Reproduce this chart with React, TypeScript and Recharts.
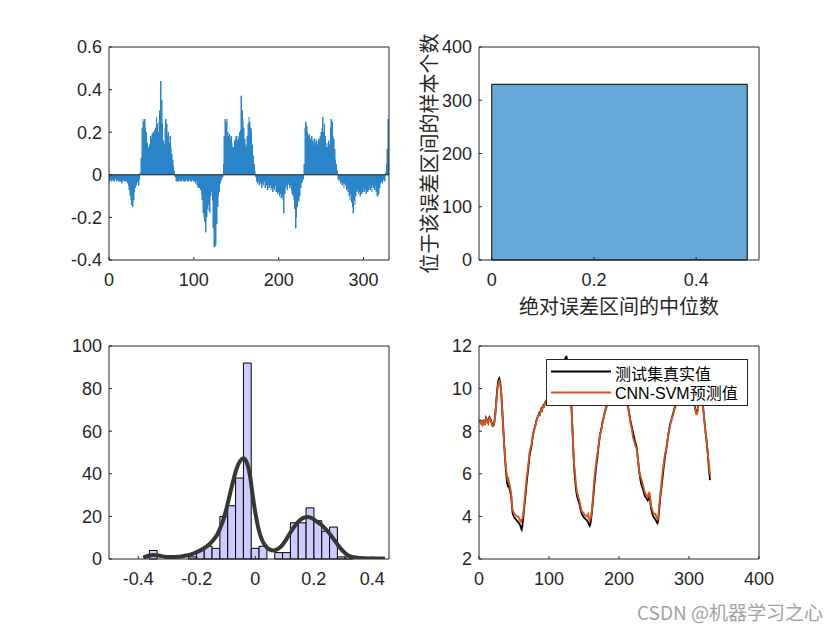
import React from 'react';
import {
  BarChart,
  Bar,
  ComposedChart,
  LineChart,
  Line,
  XAxis,
  YAxis,
  ReferenceLine,
  ReferenceArea,
  Legend,
} from 'recharts';

const W = 840;
const H = 630;
const INK = '#262626';
const LATIN = '"Liberation Sans", Arial, Helvetica, sans-serif';
const CJK = '"Noto Sans CJK SC", "Noto Sans", sans-serif';
const MIXED = '"Liberation Sans", Arial, "Noto Sans CJK SC", sans-serif';

// ---------- data: prediction error of each test sample (top-left) ----------
const errorValues = [
  -0.03, -0.02, -0.03, -0.02, -0.03, -0.03, -0.02, -0.02, -0.03, -0.02,
  -0.03, -0.03, -0.02, -0.03, -0.04, -0.03, -0.02, -0.03, -0.03, -0.02,
  -0.03, -0.04, -0.05, -0.07, -0.10, -0.12, -0.14, -0.15, -0.12, -0.08,
  -0.06, -0.05, -0.04, -0.03, -0.05, -0.02, 0.01, 0.08, 0.22, 0.26,
  0.25, 0.26, 0.22, 0.20, 0.15, 0.13, 0.13, 0.14, 0.18, 0.17,
  0.19, 0.20, 0.18, 0.21, 0.22, 0.27, 0.24, 0.20, 0.25, 0.30,
  0.44, 0.35, 0.24, 0.16, 0.14, 0.22, 0.26, 0.24, 0.18, 0.20,
  0.15, 0.18, 0.13, 0.10, 0.07, 0.04, 0.02, -0.01, -0.03, -0.03,
  -0.03, -0.03, -0.02, -0.03, -0.03, -0.03, -0.02, -0.03, -0.03, -0.03,
  -0.02, -0.03, -0.03, -0.03, -0.02, -0.03, -0.03, -0.02, -0.03, -0.03,
  -0.03, -0.04, -0.03, -0.05, -0.06, -0.04, -0.06, -0.07, -0.09, -0.12,
  -0.18, -0.20, -0.22, -0.27, -0.20, -0.16, -0.14, -0.17, -0.18, -0.10,
  -0.08, -0.12, -0.25, -0.34, -0.34, -0.33, -0.23, -0.15, -0.10, -0.08,
  -0.04, -0.03, -0.02, -0.01, 0.05, 0.18, 0.26, 0.25, 0.26, 0.20,
  0.18, 0.19, 0.17, 0.18, 0.15, 0.13, 0.13, 0.16, 0.17, 0.18,
  0.16, 0.18, 0.17, 0.20, 0.21, 0.37, 0.30, 0.26, 0.22, 0.17,
  0.14, 0.13, 0.18, 0.24, 0.27, 0.25, 0.22, 0.21, 0.14, 0.09,
  0.05, 0.02, -0.01, -0.03, -0.04, -0.03, -0.05, -0.03, -0.04, -0.06,
  -0.04, -0.05, -0.03, -0.06, -0.04, -0.05, -0.07, -0.04, -0.06, -0.05,
  -0.07, -0.06, -0.08, -0.06, -0.07, -0.05, -0.08, -0.07, -0.09, -0.08,
  -0.10, -0.09, -0.11, -0.10, -0.12, -0.18, -0.09, -0.06, -0.05, -0.07,
  -0.05, -0.04, -0.06, -0.05, -0.07, -0.09, -0.10, -0.12, -0.16, -0.25,
  -0.20, -0.15, -0.12, -0.13, -0.10, -0.06, -0.04, -0.03, -0.02, 0.05,
  0.22, 0.25, 0.23, 0.20, 0.18, 0.19, 0.17, 0.16, 0.18, 0.16,
  0.14, 0.17, 0.15, 0.17, 0.16, 0.14, 0.17, 0.16, 0.18, 0.20,
  0.22, 0.27, 0.20, 0.24, 0.18, 0.13, 0.15, 0.13, 0.16, 0.14,
  0.22, 0.26, 0.25, 0.18, 0.17, 0.12, 0.07, 0.05, 0.02, -0.02,
  -0.03, -0.02, -0.04, -0.03, -0.05, -0.04, -0.06, -0.04, -0.05, -0.07,
  -0.06, -0.08, -0.10, -0.12, -0.09, -0.13, -0.15, -0.18, -0.12, -0.14,
  -0.10, -0.08, -0.07, -0.09, -0.08, -0.10, -0.07, -0.09, -0.08, -0.06,
  -0.08, -0.07, -0.09, -0.06, -0.08, -0.07, -0.05, -0.07, -0.06, -0.08,
  -0.05, -0.06, -0.07, -0.05, -0.08, -0.10, -0.10, -0.09, -0.06, -0.04,
  -0.03, -0.04, -0.03, -0.02, -0.03, 0.01, 0.05, 0.12, 0.26, 0.26,
];

// ---------- data: true values of the test set (bottom-right) ----------
const actualValues = [
  8.55, 8.42, 8.38, 8.50, 8.35, 8.44, 8.30, 8.45, 8.40, 8.62,
  8.55, 8.48, 8.40, 8.58, 8.66, 8.60, 8.52, 8.40, 8.28, 8.25,
  8.30, 8.45, 8.70, 9.10, 9.55, 9.95, 10.25, 10.42, 10.48, 10.35,
  10.10, 9.70, 9.15, 8.55, 7.95, 7.35, 6.85, 6.35, 5.95, 5.60,
  5.45, 5.50, 5.35, 5.25, 5.10, 4.95, 4.50, 4.15, 4.05, 3.98,
  3.92, 3.88, 3.85, 3.80, 3.76, 3.72, 3.70, 3.62, 3.58, 3.45,
  3.38, 3.55, 3.85, 4.20, 4.55, 4.85, 5.20, 5.55, 5.85, 6.15,
  6.45, 6.80, 7.00, 7.15, 7.30, 7.55, 7.80, 7.95, 8.10, 8.20,
  8.35, 8.50, 8.62, 8.68, 8.75, 8.85, 8.80, 8.95, 9.05, 9.00,
  9.15, 9.22, 9.18, 9.30, 9.38, 9.42, 9.50, 9.55, 9.62, 9.68,
  9.72, 9.80, 9.85, 9.90, 9.95, 10.02, 10.08, 10.15, 10.20, 10.28,
  10.35, 10.45, 10.55, 10.68, 10.75, 10.82, 10.90, 11.00, 11.05, 11.12,
  11.20, 11.30, 11.40, 11.48, 11.50, 11.35, 11.05, 10.70, 10.30, 9.90,
  9.50, 9.15, 8.50, 7.70, 6.90, 6.25, 5.85, 5.45, 5.15, 4.95,
  4.85, 4.72, 4.65, 4.50, 4.35, 4.22, 4.10, 4.05, 4.00, 3.95,
  3.92, 3.88, 3.85, 3.82, 3.78, 3.72, 3.62, 3.55, 3.62, 3.82,
  4.10, 4.45, 4.80, 5.20, 5.55, 5.90, 6.20, 6.50, 6.75, 7.05,
  7.35, 7.60, 7.85, 8.00, 8.15, 8.35, 8.50, 8.65, 8.80, 8.92,
  9.05, 9.15, 9.25, 9.30, 9.38, 9.45, 9.52, 9.58, 9.65, 9.70,
  9.78, 9.85, 9.90, 9.95, 10.00, 10.05, 10.10, 10.12, 10.18, 10.22,
  10.25, 10.28, 10.30, 10.32, 10.30, 10.25, 10.10, 9.90, 9.70, 9.55,
  9.40, 9.25, 9.15, 8.95, 8.75, 8.55, 8.40, 8.25, 8.10, 7.95,
  7.80, 7.65, 7.50, 7.40, 7.30, 7.00, 6.70, 6.40, 6.10, 5.85,
  5.65, 5.50, 5.40, 5.30, 5.20, 5.05, 4.95, 4.90, 4.85, 4.80,
  4.75, 4.82, 4.95, 4.90, 4.60, 4.35, 4.20, 4.08, 4.00, 3.95,
  3.90, 3.85, 3.80, 3.72, 3.68, 3.80, 4.15, 4.55, 4.90, 5.20,
  5.45, 5.75, 6.05, 6.35, 6.60, 6.85, 7.05, 7.25, 7.50, 7.75,
  7.95, 8.15, 8.30, 8.45, 8.55, 8.68, 8.80, 8.92, 9.05, 9.15,
  9.25, 9.35, 9.42, 9.50, 9.58, 9.65, 9.72, 9.80, 9.85, 9.92,
  9.98, 10.05, 10.10, 10.15, 10.20, 10.25, 10.28, 10.30, 10.32, 10.30,
  10.25, 10.15, 10.00, 9.85, 9.70, 9.55, 9.40, 9.25, 9.05, 8.90,
  8.85, 8.95, 9.20, 9.45, 9.60, 9.70, 9.65, 9.50, 9.35, 9.15,
  8.85, 8.50, 8.15, 7.85, 7.60, 7.25, 6.85, 6.45, 6.05, 5.70,
];

const sampleIndex = actualValues.map((_, i) => i + 1);
const errTicksX = [0, 100, 200, 300];
const errTicksY = [-0.4, -0.2, 0, 0.2, 0.4, 0.6];

// ---------- data: absolute-error interval histogram (top-right) ----------
const absBinEdges = [0, 0.5];
const absBinCounts = [330];
const absTicksX = [0, 0.2, 0.4];
const absTicksY = [0, 100, 200, 300, 400];
const absYTitle = '位于该误差区间的样本个数';
const absXTitle = '绝对误差区间的中位数';

// ---------- data: error histogram + density fit (bottom-left) ----------
const histEdges = [
  -0.362, -0.3352, -0.3084, -0.2817, -0.2549, -0.2281, -0.2013, -0.1745, -0.1478, -0.121,
  -0.0942, -0.0674, -0.0406, -0.0139, 0.0129, 0.0397, 0.0665, 0.0933, 0.12, 0.1468,
  0.1736, 0.2004, 0.2272, 0.2539, 0.2807, 0.3075, 0.3343, 0.3611, 0.3879, 0.4146, 0.4414,
];
const histCounts = [
  4, 0, 0, 0, 0, 1, 4, 6, 5, 20,
  25, 38, 92, 5, 6, 0, 3, 3, 17, 17,
  24, 18, 13, 15, 1, 1, 0, 0, 0, 0,
];
const kdeX = [
  -0.383, -0.365, -0.349, -0.33, -0.31, -0.29, -0.265, -0.245, -0.223, -0.2,
  -0.178, -0.16, -0.144, -0.13, -0.12, -0.109, -0.098, -0.0865, -0.075, -0.0636,
  -0.052, -0.041, -0.03, -0.018, -0.007, 0.005, 0.016, 0.027, 0.04, 0.05,
  0.062, 0.075, 0.09, 0.105, 0.119, 0.135, 0.153, 0.168, 0.181, 0.195,
  0.21, 0.227, 0.244, 0.26, 0.278, 0.295, 0.312, 0.33, 0.347, 0.37,
  0.4, 0.443,
];
const kdeY = [
  0.6, 1.5, 1.9, 1.6, 1.1, 0.9, 1.0, 1.4, 2.0, 3.2,
  4.8, 6.6, 8.8, 11.5, 14.5, 18.5, 24, 30.5, 37, 42.5,
  46, 47.3, 45.5, 39, 28, 18, 11.5, 7.8, 5.3, 4.4,
  4.0, 4.6, 6.2, 9.0, 12.2, 15.5, 18.3, 19.5, 19.7, 19.0,
  17.6, 15.8, 13.5, 10.8, 7.4, 4.4, 2.2, 1.0, 0.6, 0.35,
  0.25, 0.2,
];
const histTicksX = [-0.4, -0.2, 0, 0.2, 0.4];
const histTicksY = [0, 20, 40, 60, 80, 100];

// ---------- bottom-right ----------
const fitTicksX = [0, 100, 200, 300, 400];
const fitTicksY = [2, 4, 6, 8, 10, 12];
const seriesNames = ['测试集真实值', 'CNN-SVM预测值'];
const watermark = 'CSDN @机器学习之心';

// ---------- derived tables ----------
const errRows = sampleIndex.map((x, i) => ({ x, err: errorValues[i] }));
const fitRows = sampleIndex.map((x, i) => ({
  x,
  actual: actualValues[i],
  pred: Math.round((actualValues[i] + errorValues[i]) * 100) / 100,
}));
const absRows = absBinCounts.map((n, i) => ({ x: (absBinEdges[i] + absBinEdges[i + 1]) / 2, n }));
const histRows = histCounts.map((n, i) => ({ x: (histEdges[i] + histEdges[i + 1]) / 2, n }));
const kdeRows = kdeX.map((x, i) => ({ x, y: kdeY[i] }));

// ---------- layout ----------
type Box = { l: number; r: number; t: number; b: number };
const boxTL: Box = { l: 109, r: 389, t: 47, b: 260 };
const boxTR: Box = { l: 479, r: 759, t: 47, b: 260 };
const boxBL: Box = { l: 109, r: 389, t: 346, b: 559 };
const boxBR: Box = { l: 479, r: 759, t: 346, b: 559 };
const Y_W = 60;
const X_H = 30;
const frameMargin = (bx: Box) => ({ left: bx.l - Y_W, right: W - bx.r - 1, top: bx.t - 1, bottom: H - bx.b - X_H });
const bareMargin = (bx: Box) => ({ left: bx.l, right: W - bx.r, top: bx.t, bottom: H - bx.b });

const tickStyle = { fill: INK, fontSize: 18, fontFamily: LATIN };

function frame(
  xDomain: [number, number],
  xTicks: number[],
  yDomain: [number, number],
  yTicks: number[],
  xLabel?: any,
  yLabel?: any,
) {
  return [
    <XAxis
      key="xb"
      xAxisId={0}
      type="number"
      dataKey="x"
      domain={xDomain}
      ticks={xTicks}
      interval={0}
      allowDataOverflow
      height={X_H}
      stroke={INK}
      tickSize={-3}
      tickMargin={16}
      tick={tickStyle}
      label={xLabel}
    />,
    <XAxis
      key="xt"
      xAxisId="top"
      orientation="top"
      type="number"
      domain={xDomain}
      ticks={xTicks}
      interval={0}
      allowDataOverflow
      height={1}
      stroke={INK}
      tickSize={-3}
      tick={false}
    />,
    <YAxis
      key="yl"
      yAxisId={0}
      type="number"
      domain={yDomain}
      ticks={yTicks}
      interval={0}
      allowDataOverflow
      width={Y_W}
      stroke={INK}
      tickSize={-3}
      tickMargin={10}
      tick={tickStyle}
      label={yLabel}
    />,
    <YAxis
      key="yr"
      yAxisId="right"
      orientation="right"
      type="number"
      domain={yDomain}
      ticks={yTicks}
      interval={0}
      allowDataOverflow
      width={1}
      stroke={INK}
      tickSize={-3}
      tick={false}
    />,
  ];
}

const absYLabel = () => (
  <text
    x={428}
    y={153.5}
    transform="rotate(-90 428 153.5)"
    textAnchor="middle"
    dominantBaseline="central"
    fontFamily={CJK}
    fontSize={20}
    fill={INK}
  >
    {absYTitle}
  </text>
);
const absXLabel = () => (
  <text x={619} y={305} textAnchor="middle" dominantBaseline="central" fontFamily={CJK} fontSize={20} fill={INK}>
    {absXTitle}
  </text>
);

const FitLegend = () => (
  <svg width={202} height={47} style={{ display: 'block' }}>
    <rect x={0.5} y={0.5} width={201} height={46} fill="#ffffff" stroke={INK} strokeWidth={1} />
    <line x1={5} x2={65} y1={12.5} y2={12.5} stroke="#000000" strokeWidth={2} />
    <text x={69} y={13.5} dominantBaseline="central" fontFamily={CJK} fontSize={16} fill="#000000">
      {seriesNames[0]}
    </text>
    <line x1={5} x2={65} y1={33.5} y2={33.5} stroke="#D95319" strokeWidth={2} />
    <text x={69} y={34} dominantBaseline="central" fontFamily={MIXED} fontSize={16} fill="#000000">
      {seriesNames[1]}
    </text>
  </svg>
);

const layer: React.CSSProperties = { position: 'absolute', left: 0, top: 0 };

export default function App() {
  return (
    <div
      style={{
        position: 'fixed',
        left: 0,
        top: 0,
        width: W,
        height: H,
        background: '#ffffff',
        overflow: 'hidden',
      }}
    >
      {/* top-left: error of each sample */}
      <div style={layer}>
        <BarChart width={W} height={H} data={errRows} margin={frameMargin(boxTL)} barCategoryGap={0}>
          {frame([0, 330], errTicksX, [-0.4, 0.6], errTicksY)}
          <Bar
            dataKey="err"
            fill="#2A84C8"
            stroke="#2A84C8"
            strokeWidth={0.5}
            shapeRendering="crispEdges"
            isAnimationActive={false}
          />
          <ReferenceLine y={0} stroke={INK} strokeWidth={1} />
        </BarChart>
      </div>

      {/* top-right: absolute error interval histogram */}
      <div style={layer}>
        <ComposedChart width={W} height={H} data={absRows} margin={frameMargin(boxTR)}>
          {frame([-0.025, 0.523], absTicksX, [0, 400], absTicksY, absXLabel, absYLabel)}
          {absBinCounts.map((c, i) => (
            <ReferenceArea
              key={`abs${i}`}
              x1={absBinEdges[i]}
              x2={absBinEdges[i + 1]}
              y1={0}
              y2={c}
              fill="#66A9D7"
              fillOpacity={1}
              stroke="#000000"
              strokeWidth={1}
              ifOverflow="visible"
            />
          ))}
        </ComposedChart>
      </div>

      {/* bottom-left: histogram of errors */}
      <div style={layer}>
        <ComposedChart width={W} height={H} data={histRows} margin={frameMargin(boxBL)}>
          {frame([-0.5, 0.457], histTicksX, [0, 100], histTicksY)}
          {histCounts.map((c, i) =>
            c > 0 ? (
              <ReferenceArea
                key={`h${i}`}
                x1={histEdges[i]}
                x2={histEdges[i + 1]}
                y1={0}
                y2={c}
                fill="#CCCCFF"
                fillOpacity={1}
                stroke="#000000"
                strokeWidth={1}
                ifOverflow="visible"
              />
            ) : null,
          )}
        </ComposedChart>
      </div>
      <div style={layer}>
        <LineChart width={W} height={H} data={kdeRows} margin={bareMargin(boxBL)}>
          <XAxis hide type="number" dataKey="x" domain={[-0.5, 0.457]} allowDataOverflow />
          <YAxis hide type="number" domain={[0, 100]} allowDataOverflow />
          <Line
            dataKey="y"
            type="monotone"
            stroke="#363636"
            strokeWidth={4}
            dot={false}
            isAnimationActive={false}
          />
        </LineChart>
      </div>

      {/* bottom-right: true vs predicted */}
      <div style={layer}>
        <LineChart width={W} height={H} data={fitRows} margin={frameMargin(boxBR)}>
          {frame([0, 400], fitTicksX, [2, 12], fitTicksY)}
          <Line
            dataKey="actual"
            name={seriesNames[0]}
            type="linear"
            stroke="#000000"
            strokeWidth={1.8}
            dot={false}
            isAnimationActive={false}
          />
          <Line
            dataKey="pred"
            name={seriesNames[1]}
            type="linear"
            stroke="#D95319"
            strokeWidth={1.8}
            dot={false}
            isAnimationActive={false}
          />
          <Legend
            layout="horizontal"
            verticalAlign="middle"
            align="center"
            wrapperStyle={{ left: 546, top: 359, width: 202, height: 47 }}
            content={() => <FitLegend />}
          />
        </LineChart>
      </div>

      <div
        style={{
          position: 'absolute',
          right: 17,
          top: 602,
          fontFamily: CJK,
          fontSize: 19,
          lineHeight: '20px',
          color: '#a3a3a3',
          whiteSpace: 'nowrap',
        }}
      >
        {watermark}
      </div>
    </div>
  );
}
